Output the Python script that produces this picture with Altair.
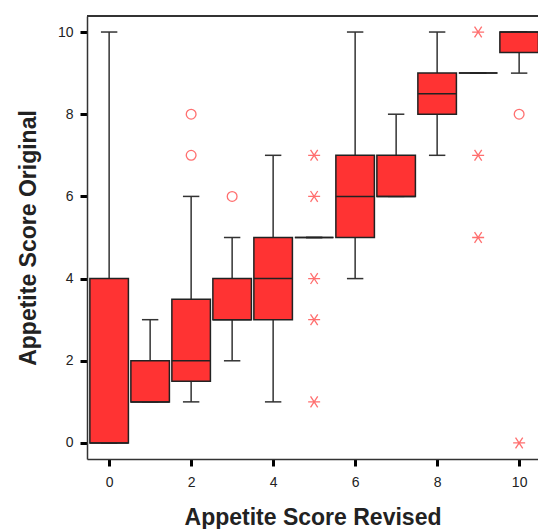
import altair as alt
import pandas as pd

# Box statistics per "Appetite Score Revised" category
categories = [0, 1, 2, 3, 4, 5, 6, 7, 8, 9, 10]
q1 = [0, 1, 1.5, 3, 3, 5, 5, 6, 8, 9, 9.5]
median = [0, 1, 2, 3, 4, 5, 6, 6, 8.5, 9, 10]
q3 = [4, 2, 3.5, 4, 5, 5, 7, 7, 9, 9, 10]
whisker_lo = [0, 1, 1, 2, 1, 5, 4, 6, 7, 9, 9]
whisker_hi = [10, 3, 6, 5, 7, 5, 10, 8, 10, 9, 10]

# Outliers (circles) and extremes (asterisks)
circle_x = [2, 2, 3, 10]
circle_y = [7, 8, 6, 8]
star_x = [5, 5, 5, 5, 5, 9, 9, 9, 10]
star_y = [1, 3, 4, 6, 7, 5, 7, 10, 0]

x_ticks = [0, 2, 4, 6, 8, 10]
y_ticks = [0, 2, 4, 6, 8, 10]

W, H = 451, 443
RED = "#ff3333"
FONT = "Liberation Sans"

boxes = pd.DataFrame({"cat": categories, "q1": q1, "med": median, "q3": q3,
                      "lo": whisker_lo, "hi": whisker_hi})
circles = pd.DataFrame({"cat": circle_x, "val": circle_y})
stars = pd.DataFrame({"cat": star_x, "val": star_y})

xscale = alt.Scale(domain=[-0.54, 10.46], nice=False, zero=False)
yscale = alt.Scale(domain=[-0.39, 10.39], nice=False, zero=False)

xaxis = alt.Axis(values=x_ticks, title="Appetite Score Revised", grid=False,
                 tickColor="black", tickWidth=3, tickSize=7, labelPadding=9,
                 domainColor="#333333", domainWidth=1.5, labelFontSize=14,
                 labelColor="#222222", labelFont=FONT, titleFont=FONT,
                 titleFontSize=23, titleFontWeight="bold", titleColor="#222222",
                 titlePadding=17)
yaxis = alt.Axis(values=y_ticks, title="Appetite Score Original", grid=False,
                 tickColor="black", tickWidth=3, tickSize=7, labelPadding=7,
                 domainColor="#333333", domainWidth=1.5, labelFontSize=14,
                 labelColor="#222222", labelFont=FONT, titleFont=FONT,
                 titleFontSize=23, titleFontWeight="bold", titleColor="#222222",
                 titlePadding=17)

base = alt.Chart(boxes).transform_calculate(
    bx1="datum.cat - 0.47", bx2="datum.cat + 0.47",
    cx1="datum.cat - 0.2", cx2="datum.cat + 0.2")

whiskers = base.mark_rule(color="#333333", strokeWidth=1.5).encode(
    x=alt.X("cat:Q", scale=xscale, axis=xaxis),
    y=alt.Y("lo:Q", scale=yscale, axis=yaxis),
    y2="hi:Q")

caps_hi = base.mark_rule(color="#333333", strokeWidth=1.5).encode(
    x=alt.X("cx1:Q", scale=xscale), x2="cx2:Q",
    y=alt.Y("hi:Q", scale=yscale))
caps_lo = base.mark_rule(color="#333333", strokeWidth=1.5).encode(
    x=alt.X("cx1:Q", scale=xscale), x2="cx2:Q",
    y=alt.Y("lo:Q", scale=yscale))

rects = base.mark_rect(fill=RED, stroke="#222222", strokeWidth=1.5, clip=True).encode(
    x=alt.X("bx1:Q", scale=xscale), x2="bx2:Q",
    y=alt.Y("q1:Q", scale=yscale), y2="q3:Q")

medians = base.mark_rule(color="#222222", strokeWidth=1.5, clip=True).encode(
    x=alt.X("bx1:Q", scale=xscale), x2="bx2:Q",
    y=alt.Y("med:Q", scale=yscale))

circ = alt.Chart(circles).mark_point(shape="circle", filled=False, color=RED,
                                     size=95, strokeWidth=1.3).encode(
    x=alt.X("cat:Q", scale=xscale), y=alt.Y("val:Q", scale=yscale))

star_path = "M-1,0L1,0M-0.6,-0.9L0.6,0.9M-0.6,0.9L0.6,-0.9"
star = alt.Chart(stars).mark_point(shape=star_path, filled=False, color=RED,
                                   size=144, strokeWidth=1.3).encode(
    x=alt.X("cat:Q", scale=xscale), y=alt.Y("val:Q", scale=yscale))

top_border = alt.Chart(boxes).mark_rule(color="#333333", strokeWidth=1.5).encode(
    x=alt.value(0), x2=alt.value(W), y=alt.value(0))

chart = alt.layer(whiskers, caps_hi, caps_lo, rects, medians, circ, star, top_border).properties(
    width=W, height=H,
    autosize=alt.AutoSizeParams(type="none"),
    padding={"left": 87, "top": 16, "right": 0, "bottom": 70},
    background="white",
).configure_view(stroke=None)

chart.save("out.html", embed_options={"renderer": "svg", "actions": False})
